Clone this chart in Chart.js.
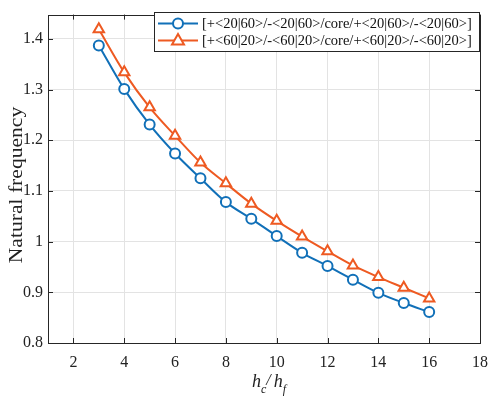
<!DOCTYPE html>
<html>
<head>
<meta charset="utf-8">
<script src="https://cdn.jsdelivr.net/npm/chart.js@4"></script>
<style>
  html, body { margin: 0; padding: 0; background: #fff; }
  #wrap { width: 498px; height: 399px; }
</style>
</head>
<body>
<div id="wrap"><canvas id="chart"></canvas></div>
<script>
const ratios = [3, 4, 5, 6, 7, 8, 9, 10, 11, 12, 13, 14, 15, 16];
const freqA = [1.387, 1.301, 1.231, 1.174, 1.125, 1.078, 1.045, 1.011, 0.978, 0.952, 0.925, 0.899, 0.879, 0.861];
const freqB = [1.419, 1.334, 1.265, 1.209, 1.156, 1.115, 1.075, 1.041, 1.010, 0.981, 0.953, 0.930, 0.909, 0.888];
const labelA = '[+<20|60>/-<20|60>/core/+<20|60>/-<20|60>]';
const labelB = '[+<60|20>/-<60|20>/core/+<60|20>/-<60|20>]';
const yTitle = 'Natural frequency';
const xTicks = [2, 4, 6, 8, 10, 12, 14, 16, 18];
const yTicks = [0.8, 0.9, 1, 1.1, 1.2, 1.3, 1.4];

const blue = '#1170B8';
const orange = '#EE5A22';
const serif = '"Liberation Serif", "DejaVu Serif", serif';

// box, inward ticks, legend and axis titles drawn on top
const decor = {
  id: 'decor',
  afterDraw(chart) {
    const ctx = chart.ctx;
    const a = chart.chartArea;
    const xs = chart.scales.x, ys = chart.scales.y;
    ctx.save();
    ctx.strokeStyle = '#262626';
    ctx.lineWidth = 1;
    ctx.beginPath();
    xTicks.forEach(v => {
      const px = Math.round(xs.getPixelForValue(v)) + 0.5;
      ctx.moveTo(px, a.bottom); ctx.lineTo(px, a.bottom - 5);
      ctx.moveTo(px, a.top); ctx.lineTo(px, a.top + 5);
    });
    yTicks.forEach(v => {
      const py = Math.round(ys.getPixelForValue(v)) + 0.5;
      ctx.moveTo(a.left, py); ctx.lineTo(a.left + 5, py);
      ctx.moveTo(a.right, py); ctx.lineTo(a.right - 5, py);
    });
    ctx.stroke();
    ctx.strokeRect(Math.round(a.left) + 0.5, Math.round(a.top) + 0.5,
      Math.round(a.right - a.left), Math.round(a.bottom - a.top));

    // legend
    const lx = 154, ly = 12, lw = 325, lh = 39;
    ctx.fillStyle = '#fff';
    ctx.fillRect(lx, ly, lw, lh);
    ctx.strokeStyle = '#262626';
    ctx.strokeRect(lx + 0.5, ly + 0.5, lw, lh);
    const rows = [
      { y: 23.5, color: blue, label: labelA, style: 'circle' },
      { y: 40.5, color: orange, label: labelB, style: 'triangle' }
    ];
    ctx.font = '14.5px ' + serif;
    ctx.textBaseline = 'middle';
    rows.forEach(r => {
      ctx.strokeStyle = r.color;
      ctx.lineWidth = 2;
      ctx.beginPath();
      ctx.moveTo(158, r.y); ctx.lineTo(198, r.y);
      ctx.stroke();
      ctx.fillStyle = '#fff';
      ctx.beginPath();
      if (r.style === 'circle') {
        ctx.arc(178, r.y, 5, 0, Math.PI * 2);
      } else {
        ctx.moveTo(178, r.y - 6.5);
        ctx.lineTo(184, r.y + 4);
        ctx.lineTo(172, r.y + 4);
        ctx.closePath();
      }
      ctx.fill();
      ctx.stroke();
      ctx.fillStyle = '#111';
      ctx.fillText(r.label, 202, r.y + 0.5);
    });

    // y axis title
    ctx.fillStyle = '#222';
    ctx.save();
    ctx.translate(17, 185);
    ctx.rotate(-Math.PI / 2);
    ctx.scale(1.2, 1);
    ctx.textAlign = 'center';
    ctx.textBaseline = 'middle';
    ctx.font = '18px ' + serif;
    ctx.fillText(yTitle, 0, 0);
    ctx.restore();

    // x axis title: h_c / h_f
    const by = 387;
    ctx.textBaseline = 'alphabetic';
    ctx.textAlign = 'left';
    let x = 252;
    ctx.font = 'italic 18px ' + serif;
    ctx.fillText('h', x, by);
    x += ctx.measureText('h').width;
    ctx.font = 'italic 12px ' + serif;
    ctx.fillText('c', x, by + 6);
    x += ctx.measureText('c').width;
    ctx.font = 'italic 16px ' + serif;
    ctx.fillText('/', x, by - 2);
    x += ctx.measureText('/').width + 3;
    ctx.font = 'italic 18px ' + serif;
    ctx.fillText('h', x, by);
    x += ctx.measureText('h').width;
    ctx.font = 'italic 12px ' + serif;
    ctx.fillText('f', x, by + 6);
    ctx.restore();
  }
};

new Chart(document.getElementById('chart'), {
  type: 'line',
  data: {
    datasets: [
      {
        label: labelA,
        data: ratios.map((r, i) => ({ x: r, y: freqA[i] })),
        borderColor: blue,
        backgroundColor: '#fff',
        pointBackgroundColor: '#fff',
        pointBorderColor: blue,
        borderWidth: 2,
        pointBorderWidth: 2,
        pointRadius: 5,
        pointStyle: 'circle',
        cubicInterpolationMode: 'monotone'
      },
      {
        label: labelB,
        data: ratios.map((r, i) => ({ x: r, y: freqB[i] })),
        borderColor: orange,
        backgroundColor: '#fff',
        pointBackgroundColor: '#fff',
        pointBorderColor: orange,
        borderWidth: 2,
        pointBorderWidth: 2,
        pointRadius: 6,
        pointStyle: 'triangle',
        cubicInterpolationMode: 'monotone'
      }
    ]
  },
  options: {
    responsive: true,
    maintainAspectRatio: false,
    animation: false,
    layout: { padding: { top: 3, right: 10, left: 0, bottom: 0 } },
    plugins: {
      legend: { display: false },
      tooltip: { enabled: false }
    },
    scales: {
      x: {
        type: 'linear',
        min: 1,
        max: 18,
        afterBuildTicks: s => { s.ticks = xTicks.map(v => ({ value: v })); },
        afterFit: s => { s.height = 56; },
        grid: { color: '#e3e3e3', drawTicks: false },
        border: { display: false },
        ticks: {
          padding: 10,
          color: '#222',
          font: { family: serif, size: 16 }
        }
      },
      y: {
        min: 0.8,
        max: 1.448,
        afterBuildTicks: s => { s.ticks = yTicks.map(v => ({ value: v })); },
        afterFit: s => { s.width = 48; },
        grid: { color: '#e3e3e3', drawTicks: false },
        border: { display: false },
        ticks: {
          padding: 5,
          color: '#222',
          font: { family: serif, size: 16 },
          callback: v => String(Math.round(v * 10) / 10)
        }
      }
    }
  },
  plugins: [decor]
});
</script>
</body>
</html>
